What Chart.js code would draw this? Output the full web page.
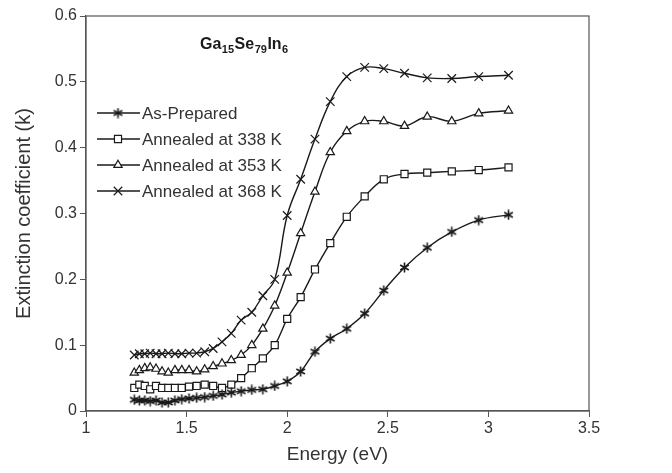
<!DOCTYPE html>
<html>
<head>
<meta charset="utf-8">
<script src="https://cdn.jsdelivr.net/npm/chart.js@4.4.1/dist/chart.umd.min.js"></script>
<style>
    html, body { margin: 0; padding: 0; background: #fff; }
</style>
</head>
<body>
<canvas id="chart" width="672" height="473"></canvas>
<script>
// photon energy (eV) of each measured point
const energy = [1.240, 1.265, 1.292, 1.319, 1.348, 1.378, 1.409, 1.442, 1.476, 1.512,
    1.550, 1.590, 1.632, 1.676, 1.722, 1.771, 1.824, 1.879, 1.938, 2.000,
    2.067, 2.138, 2.214, 2.296, 2.385, 2.480, 2.583, 2.696, 2.818, 2.952, 3.100];

const asPrepared = [0.017, 0.016, 0.016, 0.015, 0.016, 0.013, 0.013, 0.016, 0.018, 0.019,
    0.020, 0.021, 0.023, 0.025, 0.028, 0.030, 0.032, 0.033, 0.038, 0.045,
    0.060, 0.090, 0.110, 0.125, 0.148, 0.183, 0.218, 0.248, 0.272, 0.290, 0.298];

const annealed338 = [0.035, 0.040, 0.038, 0.033, 0.038, 0.035, 0.035, 0.035, 0.035, 0.037,
    0.038, 0.040, 0.038, 0.035, 0.040, 0.050, 0.065, 0.080, 0.100, 0.140,
    0.173, 0.215, 0.255, 0.295, 0.326, 0.352, 0.360, 0.362, 0.364, 0.366, 0.370];

const annealed353 = [0.058, 0.062, 0.065, 0.066, 0.064, 0.060, 0.058, 0.062, 0.062, 0.062,
    0.060, 0.063, 0.068, 0.072, 0.077, 0.085, 0.100, 0.125, 0.160, 0.210,
    0.270, 0.333, 0.393, 0.425, 0.440, 0.440, 0.433, 0.447, 0.440, 0.452, 0.456];

const annealed368 = [0.085, 0.087, 0.087, 0.088, 0.087, 0.087, 0.088, 0.087, 0.087, 0.088,
    0.088, 0.090, 0.095, 0.105, 0.118, 0.138, 0.150, 0.175, 0.200, 0.297,
    0.352, 0.413, 0.470, 0.508, 0.522, 0.520, 0.513, 0.506, 0.505, 0.508, 0.510];

const seriesNames = ['As-Prepared', 'Annealed at 338 K', 'Annealed at 353 K', 'Annealed at 368 K'];
const xTicks = [1, 1.5, 2, 2.5, 3, 3.5];
const yTicks = [0, 0.1, 0.2, 0.3, 0.4, 0.5, 0.6];

const INK = '#1a1a1a';
const TEXT = '#333333';
const FONT = "'Liberation Sans', Arial, sans-serif";

// six armed asterisk used for the as-prepared film
function makeAsterisk() {
    const c = document.createElement('canvas');
    c.width = 11; c.height = 11;
    const g = c.getContext('2d');
    g.strokeStyle = INK;
    g.lineWidth = 1.6;
    g.beginPath();
    g.moveTo(5.5, 0.5); g.lineTo(5.5, 10.5);
    g.moveTo(1.2, 3); g.lineTo(9.8, 8);
    g.moveTo(1.2, 8); g.lineTo(9.8, 3);
    g.stroke();
    return c;
}
const asterisk = makeAsterisk();

function toPoints(values) {
    return energy.map((e, i) => ({ x: e, y: values[i] }));
}

function makeSet(label, values, style, radius) {
    return {
        label: label,
        data: toPoints(values),
        borderColor: INK,
        backgroundColor: '#ffffff',
        borderWidth: 1.4,
        pointStyle: style,
        pointRadius: radius,
        pointBorderColor: INK,
        pointBackgroundColor: '#ffffff',
        pointBorderWidth: 1.2,
        tension: 0.4,
        fill: false
    };
}

const frame = {
    id: 'frame',
    afterDatasetsDraw(chart) {
        const { ctx, chartArea: a } = chart;
        ctx.save();
        ctx.strokeStyle = '#555555';
        ctx.lineWidth = 1.2;
        ctx.strokeRect(a.left, a.top, a.right - a.left, a.bottom - a.top);
        ctx.restore();
    }
};

const compoundLabel = {
    id: 'compoundLabel',
    afterDraw(chart) {
        const ctx = chart.ctx;
        const parts = [['Ga', false], ['15', true], ['Se', false], ['79', true], ['In', false], ['6', true]];
        let x = 200;
        const y = 49;
        ctx.save();
        ctx.fillStyle = INK;
        ctx.textBaseline = 'alphabetic';
        parts.forEach(([t, sub]) => {
            ctx.font = sub ? `bold 11px ${FONT}` : `bold 16px ${FONT}`;
            ctx.fillText(t, x, sub ? y + 4 : y);
            x += ctx.measureText(t).width + 0.5;
        });
        ctx.restore();
    }
};

const insideLegend = {
    id: 'insideLegend',
    afterDraw(chart) {
        const ctx = chart.ctx;
        const rows = [113, 139, 165, 191];
        ctx.save();
        chart.data.datasets.forEach((ds, i) => {
            const y = rows[i];
            ctx.strokeStyle = INK;
            ctx.lineWidth = 1.4;
            ctx.beginPath();
            ctx.moveTo(97, y);
            ctx.lineTo(140, y);
            ctx.stroke();
            ctx.fillStyle = '#ffffff';
            ctx.lineWidth = 1.2;
            Chart.helpers.drawPoint(ctx, {
                pointStyle: ds.pointStyle,
                radius: ds.pointRadius,
                borderWidth: 1.2
            }, 118, y);
            ctx.fillStyle = TEXT;
            ctx.font = `17px ${FONT}`;
            ctx.textBaseline = 'middle';
            ctx.fillText(ds.label, 142, y + 1);
        });
        ctx.restore();
    }
};

new Chart(document.getElementById('chart'), {
    type: 'line',
    data: {
        datasets: [
            makeSet(seriesNames[0], asPrepared, asterisk, 5),
            makeSet(seriesNames[1], annealed338, 'rect', 5),
            makeSet(seriesNames[2], annealed353, 'triangle', 4.8),
            makeSet(seriesNames[3], annealed368, 'crossRot', 6)
        ]
    },
    options: {
        responsive: false,
        animation: false,
        layout: { padding: { left: 0, top: 16, right: 83, bottom: 0 } },
        plugins: {
            legend: { display: false },
            tooltip: { enabled: false }
        },
        scales: {
            x: {
                type: 'linear',
                min: 1,
                max: 3.5,
                afterBuildTicks: s => { s.ticks = xTicks.map(v => ({ value: v })); },
                afterFit: s => { s.height = 62; },
                grid: { drawOnChartArea: false, tickLength: 6, color: '#555555' },
                border: { color: '#555555', width: 1.2 },
                ticks: { color: TEXT, font: { family: FONT, size: 16 }, padding: 2, callback: v => String(v) },
                title: { display: true, text: 'Energy (eV)', color: TEXT, font: { family: FONT, size: 19 }, padding: { top: 0, bottom: 7 } }
            },
            y: {
                type: 'linear',
                min: 0,
                max: 0.6,
                afterBuildTicks: s => { s.ticks = yTicks.map(v => ({ value: v })); },
                afterFit: s => { s.width = 86; },
                grid: { drawOnChartArea: false, tickLength: 6, color: '#555555' },
                border: { color: '#555555', width: 1.2 },
                ticks: { color: TEXT, font: { family: FONT, size: 16 }, padding: 3, callback: v => String(v) },
                title: { display: true, text: 'Extinction coefficient (k)', color: TEXT, font: { family: FONT, size: 20 }, padding: { top: 12, bottom: 0 } }
            }
        }
    },
    plugins: [frame, compoundLabel, insideLegend]
});
</script>
</body>
</html>
